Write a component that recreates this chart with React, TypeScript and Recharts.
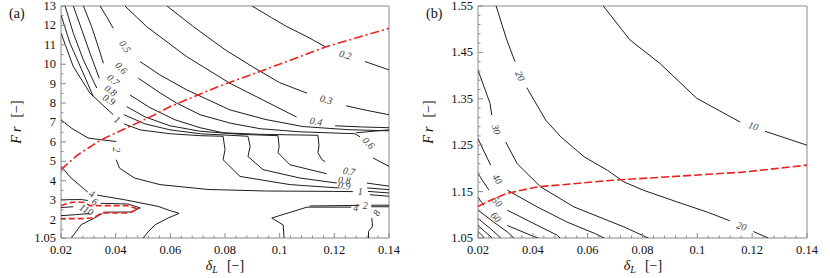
import React from 'react';
import { ComposedChart, Line, Scatter, XAxis, YAxis, ReferenceArea } from 'recharts';

type Pt = [number, number];

// ---------- Panel (a): axes ----------
const aXMajor = [0.02, 0.04, 0.06, 0.08, 0.1, 0.12, 0.14];
const aXLabels = ['0.02', '0.04', '0.06', '0.08', '0.1', '0.12', '0.14'];
const aYMajor = [1.05, 2, 3, 4, 5, 6, 7, 8, 9, 10, 11, 12, 13];
const aYLabels = ['1.05', '2', '3', '4', '5', '6', '7', '8', '9', '10', '11', '12', '13'];

// ---------- Panel (a): contour pieces (δL, Fr) ----------
const a02a: Pt[] = [[0.0899, 13], [0.097, 12.4], [0.1026, 11.94], [0.11, 11.42], [0.1166, 10.91]];
const a02b: Pt[] = [[0.1312, 10.14], [0.14, 9.71]];
const a03a: Pt[] = [[0.0588, 13], [0.0684, 11.94], [0.08, 10.75], [0.0903, 9.85], [0.1, 9.05], [0.11, 8.51]];
const a03b: Pt[] = [[0.1243, 7.86], [0.132, 7.62], [0.14, 7.4]];
const a04a: Pt[] = [[0.0434, 13], [0.0513, 11.94], [0.066, 10.39], [0.0818, 9.02], [0.094, 8.15], [0.1062, 7.28]];
const a04b: Pt[] = [[0.1203, 6.83], [0.13, 6.77], [0.14, 6.73]];
const a05a: Pt[] = [[0.0343, 13], [0.0367, 12.45], [0.0391, 11.85]];
const a05b: Pt[] = [[0.0489, 10.14], [0.0562, 9.45], [0.066, 8.68], [0.0818, 7.65], [0.095, 7.15], [0.1085, 6.79], [0.125, 6.63], [0.14, 6.57]];
const a06a: Pt[] = [[0.0282, 13], [0.0312, 11.94], [0.0336, 10.91], [0.0355, 10.05]];
const a06b: Pt[] = [[0.0483, 9.28], [0.0562, 8.53], [0.0623, 8.0], [0.0709, 7.4], [0.0818, 6.97], [0.0928, 6.68], [0.1074, 6.52], [0.1276, 6.42], [0.1294, 6.26]];
const a06c: Pt[] = [[0.1342, 5.17], [0.14, 4.74]];
const a07a: Pt[] = [[0.0245, 13], [0.0276, 11.77], [0.0306, 10.57], [0.034, 9.28]];
const a07b: Pt[] = [[0.0452, 8.42], [0.0526, 7.76], [0.0617, 7.14], [0.0709, 6.73], [0.0793, 6.47], [0.0928, 6.39], [0.114, 6.34], [0.1144, 5.8], [0.114, 5.44], [0.1155, 5.08], [0.1166, 4.98]];
const a08a: Pt[] = [[0.0215, 13], [0.0245, 11.6], [0.0282, 10.22], [0.0331, 8.77]];
const a08b: Pt[] = [[0.044, 7.82], [0.0507, 7.29], [0.0599, 6.83], [0.0709, 6.55], [0.0855, 6.39], [0.0994, 6.32], [0.0998, 5.77], [0.0994, 5.44], [0.1038, 4.82], [0.1172, 4.36]];
const a08c: Pt[] = [[0.1319, 3.88], [0.14, 3.72]];
const a09a: Pt[] = [[0.02, 12.54], [0.0233, 11.08], [0.0276, 9.71], [0.0318, 8.34]];
const a09b: Pt[] = [[0.0431, 7.4], [0.0507, 6.93], [0.0599, 6.62], [0.0709, 6.42], [0.0884, 6.29], [0.0892, 5.77], [0.0884, 5.25], [0.0939, 4.57], [0.1074, 4.14], [0.1209, 3.88]];
const a09c: Pt[] = [[0.132, 3.63], [0.14, 3.54]];
const a1a: Pt[] = [[0.02, 11.6], [0.0245, 9.88], [0.0306, 8.51], [0.0391, 7.4]];
const a1b: Pt[] = [[0.0431, 6.93], [0.0489, 6.62], [0.0599, 6.42], [0.0709, 6.32], [0.0793, 6.29], [0.08, 5.6], [0.0793, 5.08], [0.0855, 4.22], [0.1038, 3.8], [0.1214, 3.63]];
const a1c: Pt[] = [[0.1323, 3.45], [0.14, 3.37]];
const a2a: Pt[] = [[0.02, 7.14], [0.0238, 6.71], [0.0299, 6.2], [0.0347, 6.11], [0.0402, 6.02]];
const a2b: Pt[] = [[0.0402, 5.08], [0.0414, 4.65], [0.0469, 4.14], [0.0562, 3.8], [0.0738, 3.55], [0.0952, 3.47], [0.1196, 3.45], [0.1268, 3.44]];
const a2c: Pt[] = [[0.133, 3.28], [0.14, 3.2]];
const a4a: Pt[] = [[0.02, 4.74], [0.0237, 4.14], [0.0287, 3.54], [0.0298, 3.42]];
const a4b: Pt[] = [[0.0332, 3.26], [0.0433, 3.02], [0.0555, 2.68], [0.0599, 2.46], [0.0632, 2.32], [0.0592, 2.08], [0.0544, 1.73], [0.0519, 1.37], [0.0501, 1.05]];
const a6a: Pt[] = [[0.02, 3.02], [0.0275, 3.03], [0.0298, 2.98]];
const a6b: Pt[] = [[0.0345, 2.84], [0.0445, 2.8], [0.049, 2.6], [0.0458, 2.39], [0.0355, 2.38]];
const a110a: Pt[] = [[0.02, 2.62], [0.0245, 2.66]];
const a110b: Pt[] = [[0.02, 2.2], [0.0252, 2.25], [0.0305, 2.31]];
const aBL: Pt[] = [[0.0238, 1.05], [0.0274, 1.74], [0.0323, 2.08], [0.0352, 2.32]];
const aR4: Pt[] = [[0.1016, 1.05], [0.1013, 1.72], [0.0971, 2.08], [0.11, 2.64], [0.1262, 2.64]];
const aR4c: Pt[] = [[0.1335, 2.66], [0.14, 2.66]];
const aR2: Pt[] = [[0.111, 2.7], [0.1292, 2.73]];
const aR2c: Pt[] = [[0.1335, 2.74], [0.14, 2.74]];
const a8: Pt[] = [[0.1337, 2.08], [0.134, 1.65], [0.1325, 1.39], [0.1325, 1.05]];
const aBand: Pt[] = [[0.128, 6.47], [0.14, 6.62]];

// red curves in (a)
const aRedDashDot: Pt[] = [[0.02, 4.57], [0.0262, 5.34], [0.0347, 6.11], [0.0451, 6.79], [0.0543, 7.4], [0.0599, 7.82], [0.077, 8.82], [0.0904, 9.5], [0.1172, 10.91], [0.14, 11.85]];
const aRedLoop: Pt[] = [[0.02, 2.72], [0.0239, 2.89], [0.0282, 2.89], [0.0306, 2.72], [0.044, 2.72], [0.0481, 2.55], [0.045, 2.34], [0.0349, 2.34], [0.0318, 2.08], [0.027, 2.05], [0.02, 2.05]];

// contour labels (a)
const aLabelText = ['0.2', '0.3', '0.4', '0.5', '0.6', '0.7', '0.8', '0.9', '1', '2', '0.6', '0.7', '0.8', '0.9', '1', '4', '6', '110', '4', '2', '8'];
const aLabelX = [0.124, 0.117, 0.1133, 0.0434, 0.042, 0.0391, 0.0382, 0.0376, 0.0406, 0.0402, 0.1325, 0.1254, 0.1236, 0.1236, 0.1295, 0.0313, 0.0324, 0.0293, 0.1278, 0.1313, 0.1355];
const aLabelY = [10.48, 8.17, 7.05, 10.91, 9.81, 9.19, 8.64, 8.17, 7.14, 5.6, 5.94, 4.48, 4.02, 3.74, 3.42, 3.33, 2.92, 2.5, 2.6, 2.72, 2.34];
const aLabelAngle = [15, 15, 10, 55, 45, 40, 35, 30, 35, 90, 45, 8, 5, 5, 0, 25, 30, 30, 0, 0, -60];

// ---------- Panel (b): axes ----------
const bXMajor = [0.02, 0.04, 0.06, 0.08, 0.1, 0.12, 0.14];
const bXLabels = ['0.02', '0.04', '0.06', '0.08', '0.1', '0.12', '0.14'];
const bYMajor = [1.05, 1.15, 1.25, 1.35, 1.45, 1.55];
const bYLabels = ['1.05', '1.15', '1.25', '1.35', '1.45', '1.55'];

// ---------- Panel (b): contour pieces ----------
const b10a: Pt[] = [[0.0657, 1.55], [0.0754, 1.477], [0.0864, 1.426], [0.0998, 1.351], [0.1156, 1.3]];
const b10b: Pt[] = [[0.1247, 1.28], [0.14, 1.25]];
const b20a: Pt[] = [[0.0266, 1.55], [0.0305, 1.477], [0.0335, 1.43]];
const b20b: Pt[] = [[0.0378, 1.374], [0.0447, 1.304], [0.0502, 1.268], [0.0587, 1.225], [0.0672, 1.196], [0.0732, 1.171], [0.0803, 1.153], [0.0925, 1.128], [0.104, 1.105], [0.1119, 1.087]];
const b20c: Pt[] = [[0.1204, 1.064], [0.1259, 1.05]];
const b30a: Pt[] = [[0.02, 1.412], [0.0244, 1.34], [0.025, 1.315]];
const b30b: Pt[] = [[0.0301, 1.257], [0.0343, 1.21], [0.0429, 1.16], [0.055, 1.117], [0.0732, 1.074], [0.0821, 1.05]];
const b40a: Pt[] = [[0.02, 1.264], [0.0246, 1.207]];
const b40b: Pt[] = [[0.0307, 1.153], [0.0416, 1.117], [0.0526, 1.084], [0.0629, 1.059], [0.066, 1.05]];
const b50a: Pt[] = [[0.02, 1.189], [0.024, 1.153]];
const b50b: Pt[] = [[0.0307, 1.11], [0.0404, 1.081], [0.0489, 1.056], [0.0499, 1.05]];
const b60a: Pt[] = [[0.02, 1.138], [0.0222, 1.12]];
const b60b: Pt[] = [[0.0307, 1.077], [0.0392, 1.056], [0.0419, 1.05]];
const b70: Pt[] = [[0.02, 1.11], [0.0258, 1.084], [0.0307, 1.063], [0.0331, 1.05]];
const b80: Pt[] = [[0.02, 1.092], [0.0246, 1.07], [0.0283, 1.05]];
const b90: Pt[] = [[0.02, 1.077], [0.0252, 1.05]];
const b100: Pt[] = [[0.02, 1.064], [0.0224, 1.05]];

const bRedDash: Pt[] = [[0.02, 1.118], [0.0244, 1.131], [0.0305, 1.146], [0.0414, 1.16], [0.0681, 1.174], [0.0925, 1.183], [0.1167, 1.192], [0.14, 1.207]];

const bLabelText = ['10', '20', '20', '30', '40', '50', '60'];
const bLabelX = [0.1204, 0.0353, 0.1161, 0.0266, 0.027, 0.027, 0.0265];
const bLabelY = [1.291, 1.399, 1.075, 1.284, 1.177, 1.128, 1.095];
const bLabelAngle = [18, 68, 18, 75, 55, 45, 45];

// ---------- helpers ----------
const FRAME = '#8a8a8a';
const LINE = '#1e1e1e';
const RED = '#e8231f';
const SERIF = '"Liberation Serif", "DejaVu Serif", "Times New Roman", serif';

const toPts = (a: Pt[]) => a.map(([x, y]) => ({ x, y }));
const near = (a: number, b: number) => Math.abs(a - b) < 1e-7;
const stepTicks = (start: number, step: number, n: number) =>
  Array.from({ length: n }, (_, i) => Number((start + step * i).toFixed(5)));

type Side = 'bottom' | 'top' | 'left' | 'right';

function makeTick(side: Side, majors: number[], labels: string[]) {
  return (props: any) => {
    const { x, y, payload } = props;
    const v = payload.value;
    const idx = majors.findIndex((m) => near(m, v));
    const len = idx >= 0 ? 5 : 2.5;
    let ln: React.ReactNode = null;
    let tx: React.ReactNode = null;
    if (side === 'bottom') {
      ln = <line x1={x} x2={x} y1={y} y2={y - len} stroke={FRAME} strokeWidth={1} />;
      if (idx >= 0)
        tx = (
          <text x={x} y={y + 16} textAnchor="middle" fontFamily={SERIF} fontSize={12.5} fill="#111">
            {labels[idx]}
          </text>
        );
    } else if (side === 'top') {
      ln = <line x1={x} x2={x} y1={y} y2={y + len} stroke={FRAME} strokeWidth={1} />;
    } else if (side === 'left') {
      ln = <line x1={x} x2={x + len} y1={y} y2={y} stroke={FRAME} strokeWidth={1} />;
      if (idx >= 0)
        tx = (
          <text x={x - 5} y={y + 4} textAnchor="end" fontFamily={SERIF} fontSize={12.5} fill="#111">
            {labels[idx]}
          </text>
        );
    } else {
      ln = <line x1={x} x2={x - len} y1={y} y2={y} stroke={FRAME} strokeWidth={1} />;
    }
    return (
      <g>
        {ln}
        {tx}
      </g>
    );
  };
}

const ContourLabel = (p: any) => {
  const { cx, cy, payload } = p;
  if (cx == null || cy == null) return <g />;
  return (
    <text
      x={cx}
      y={cy}
      dy="0.33em"
      textAnchor="middle"
      transform={`rotate(${payload.a} ${cx} ${cy})`}
      fontFamily={SERIF}
      fontStyle="italic"
      fontSize={10}
      fill="#3a3a3a"
    >
      {payload.t}
    </text>
  );
};

interface RedDef {
  pts: Pt[];
  dash: string;
}

interface PanelProps {
  width: number;
  height: number;
  margin: { top: number; right: number; bottom: number; left: number };
  yWidth: number;
  xDomain: [number, number];
  yDomain: [number, number];
  xTicks: number[];
  xMajor: number[];
  xLabels: string[];
  yTicks: number[];
  yMajor: number[];
  yLabels: string[];
  lines: Pt[][];
  reds: RedDef[];
  labels: { x: number; y: number; t: string; a: number }[];
}

function Panel(p: PanelProps) {
  return (
    <ComposedChart width={p.width} height={p.height} margin={p.margin}>
      <XAxis
        xAxisId="b"
        dataKey="x"
        type="number"
        domain={p.xDomain}
        allowDataOverflow
        ticks={p.xTicks}
        interval={0}
        tickSize={0}
        tickMargin={0}
        tickLine={false}
        axisLine={false}
        height={40}
        tick={makeTick('bottom', p.xMajor, p.xLabels)}
      />
      <XAxis
        xAxisId="t"
        orientation="top"
        dataKey="x"
        type="number"
        domain={p.xDomain}
        allowDataOverflow
        ticks={p.xTicks}
        interval={0}
        tickSize={0}
        tickMargin={0}
        tickLine={false}
        axisLine={false}
        height={0}
        tick={makeTick('top', p.xMajor, p.xLabels)}
      />
      <YAxis
        yAxisId="l"
        dataKey="y"
        type="number"
        domain={p.yDomain}
        allowDataOverflow
        ticks={p.yTicks}
        interval={0}
        tickSize={0}
        tickMargin={0}
        tickLine={false}
        axisLine={false}
        width={p.yWidth}
        tick={makeTick('left', p.yMajor, p.yLabels)}
      />
      <YAxis
        yAxisId="r"
        orientation="right"
        dataKey="y"
        type="number"
        domain={p.yDomain}
        allowDataOverflow
        ticks={p.yTicks}
        interval={0}
        tickSize={0}
        tickMargin={0}
        tickLine={false}
        axisLine={false}
        width={0}
        tick={makeTick('right', p.yMajor, p.yLabels)}
      />
      {p.lines.map((pts, i) => (
        <Line
          key={'c' + i}
          xAxisId="b"
          yAxisId="l"
          data={toPts(pts)}
          dataKey="y"
          type="linear"
          stroke={LINE}
          strokeWidth={1}
          dot={false}
          activeDot={false}
          isAnimationActive={false}
        />
      ))}
      {p.reds.map((r, i) => (
        <Line
          key={'r' + i}
          xAxisId="b"
          yAxisId="l"
          data={toPts(r.pts)}
          dataKey="y"
          type="linear"
          stroke={RED}
          strokeWidth={1.6}
          strokeDasharray={r.dash}
          dot={false}
          activeDot={false}
          isAnimationActive={false}
        />
      ))}
      <Scatter
        xAxisId="b"
        yAxisId="l"
        data={p.labels}
        dataKey="y"
        shape={ContourLabel}
        isAnimationActive={false}
      />
      <ReferenceArea
        xAxisId="b"
        yAxisId="l"
        x1={p.xDomain[0]}
        x2={p.xDomain[1]}
        y1={p.yDomain[0]}
        y2={p.yDomain[1]}
        fill="none"
        stroke={FRAME}
        strokeWidth={1}
        ifOverflow="visible"
      />
    </ComposedChart>
  );
}

const buildLabels = (t: string[], xs: number[], ys: number[], an: number[]) =>
  t.map((s, i) => ({ x: xs[i], y: ys[i], t: s, a: an[i] }));

const XTitle = ({ cx }: { cx: number }) => (
  <text x={cx} y={270} textAnchor="middle" fontFamily={SERIF} fontSize={14} fill="#111">
    <tspan fontStyle="italic">δ</tspan>
    <tspan fontStyle="italic" fontSize={10} dy={3}>
      L
    </tspan>
    <tspan dx={9} dy={-3}>
      [−]
    </tspan>
  </text>
);

const YTitle = ({ bx }: { bx: number }) => (
  <text transform={`translate(${bx},122) rotate(-90)`} textAnchor="middle" fontFamily={SERIF} fontSize={14} fill="#111">
    <tspan fontStyle="italic">F</tspan>
    <tspan fontStyle="italic" dx={3}>
      r
    </tspan>
    <tspan dx={9}>[−]</tspan>
  </text>
);

export default function App() {
  const linesA = [
    a02a, a02b, a03a, a03b, a04a, a04b, a05a, a05b, a06a, a06b, a06c, a07a, a07b, a08a, a08b, a08c,
    a09a, a09b, a09c, a1a, a1b, a1c, a2a, a2b, a2c, a4a, a4b, a6a, a6b, a110a, a110b, aBL, aR4, aR4c,
    aR2, aR2c, a8, aBand,
  ];
  const linesB = [b10a, b10b, b20a, b20b, b20c, b30a, b30b, b40a, b40b, b50a, b50b, b60a, b60b, b70, b80, b90, b100];
  const xTicks = stepTicks(0.02, 0.004, 31);
  const aYTicks = [1.05, ...stepTicks(1.5, 0.5, 24)];
  const bYTicks = stepTicks(1.05, 0.02, 26);

  return (
    <div style={{ position: 'absolute', left: 0, top: 0, width: 830, height: 278, background: '#fff', overflow: 'hidden' }}>
      <div style={{ position: 'absolute', left: 0, top: 0 }}>
        <Panel
          width={415}
          height={278}
          margin={{ top: 6, right: 26, bottom: 0, left: 0 }}
          yWidth={61}
          xDomain={[0.02, 0.14]}
          yDomain={[1.05, 13]}
          xTicks={xTicks}
          xMajor={aXMajor}
          xLabels={aXLabels}
          yTicks={aYTicks}
          yMajor={aYMajor}
          yLabels={aYLabels}
          lines={linesA}
          reds={[
            { pts: aRedDashDot, dash: '9 3 2 3' },
            { pts: aRedLoop, dash: '6 3' },
          ]}
          labels={buildLabels(aLabelText, aLabelX, aLabelY, aLabelAngle)}
        />
      </div>
      <div style={{ position: 'absolute', left: 415, top: 0 }}>
        <Panel
          width={415}
          height={278}
          margin={{ top: 6, right: 23, bottom: 0, left: 0 }}
          yWidth={63}
          xDomain={[0.02, 0.14]}
          yDomain={[1.05, 1.55]}
          xTicks={xTicks}
          xMajor={bXMajor}
          xLabels={bXLabels}
          yTicks={bYTicks}
          yMajor={bYMajor}
          yLabels={bYLabels}
          lines={linesB}
          reds={[{ pts: bRedDash, dash: '8 3' }]}
          labels={buildLabels(bLabelText, bLabelX, bLabelY, bLabelAngle)}
        />
      </div>
      <svg width={830} height={278} style={{ position: 'absolute', left: 0, top: 0, pointerEvents: 'none' }}>
        <text x={9} y={18} fontFamily={SERIF} fontSize={14} fill="#111">(a)</text>
        <text x={426} y={18} fontFamily={SERIF} fontSize={14} fill="#111">(b)</text>
        <XTitle cx={225} />
        <XTitle cx={643} />
        <YTitle bx={21} />
        <YTitle bx={433} />
      </svg>
    </div>
  );
}
